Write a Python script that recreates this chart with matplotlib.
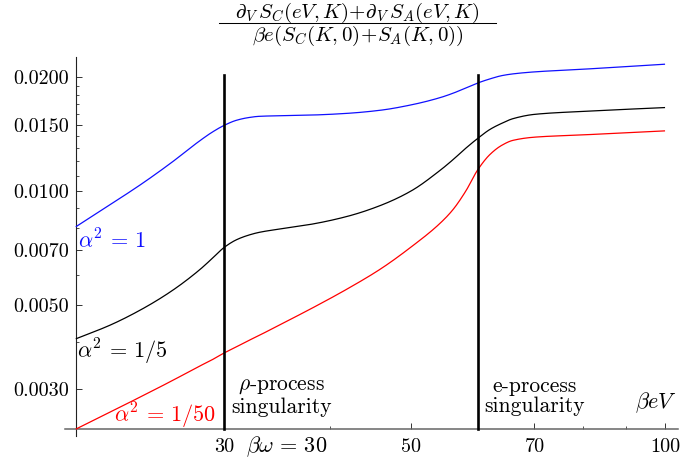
import numpy as np
import matplotlib
matplotlib.use("Agg")
import matplotlib.pyplot as plt
from matplotlib.lines import Line2D
from matplotlib.ticker import FixedLocator, FixedFormatter, NullFormatter

plt.rcParams["font.family"] = ["cmr10", "DejaVu Serif"]
plt.rcParams["mathtext.fontset"] = "cm"
plt.rcParams["axes.unicode_minus"] = False

# bias voltage (beta e V) grid and the normalised conductance for three couplings
beta_eV = [20, 22, 24, 26, 28, 29, 30, 31, 32, 33, 35, 38, 42, 46, 50,
           54, 56, 58, 60, 62, 64, 66, 70, 80, 100]
rate_alpha_1 = [0.00805, 0.00923, 0.01049, 0.01192, 0.01354, 0.01430, 0.01493, 0.01539,
                0.01564, 0.01577, 0.01583, 0.01589, 0.01606, 0.01637, 0.01691,
                0.01765, 0.01814, 0.01873, 0.01933, 0.01981, 0.02020, 0.02042,
                0.02067, 0.02101, 0.02166]
rate_alpha_1_5 = [0.004070, 0.004431, 0.004886, 0.005451, 0.006176, 0.006624, 0.007103,
                  0.007435, 0.007641, 0.007782, 0.007950, 0.008171, 0.008579, 0.009172,
                  0.010018, 0.011315, 0.012097, 0.012976, 0.013807, 0.014567, 0.015109,
                  0.015547, 0.015960, 0.016254, 0.016635]
rate_alpha_1_50 = [0.002349, 0.002610, 0.002877, 0.003152, 0.003441, 0.003580, 0.003736,
                   0.003875, 0.004019, 0.004156, 0.004445, 0.004886, 0.005518, 0.006232,
                   0.007124, 0.008195, 0.008923, 0.009988, 0.011418, 0.012508, 0.013215,
                   0.013624, 0.013892, 0.014088, 0.014435]

series_labels = [r"$\alpha^2\,=\,1$", r"$\alpha^2\,=\,1/5$", r"$\alpha^2\,=\,1/50$"]
series_colors = ["#1010ff", "black", "#ff0000"]

singularity_positions = [30, 60]
singularity_labels = ["$\\rho$-process\nsingularity", "e-process\nsingularity"]

x_major = [30, 50, 70, 100]
x_major_labels = ["30", "50", "70", "100"]
x_minor = [40, 60, 80, 90]
y_major = [0.003, 0.005, 0.007, 0.010, 0.015, 0.020]
y_major_labels = ["0.0030", "0.0050", "0.0070", "0.0100", "0.0150", "0.0200"]
y_minor = [0.004, 0.006, 0.008, 0.009, 0.011, 0.012, 0.013, 0.014,
           0.016, 0.017, 0.018, 0.019]

title_numerator = r"$\partial_V\, S_C(eV,K)\!+\!\partial_V\, S_A(eV,K)$"
title_denominator = r"$\beta e(S_C(K,0)\!+\!S_A(K,0))$"

x_origin = 20
y_origin = 0.00235


def monotone_cubic(x, y, xs):
    """Fritsch-Carlson monotone cubic interpolation."""
    x = np.asarray(x, float)
    y = np.asarray(y, float)
    h = np.diff(x)
    d = np.diff(y) / h
    m = np.zeros_like(y)
    m[0], m[-1] = d[0], d[-1]
    for k in range(1, len(x) - 1):
        if d[k - 1] * d[k] <= 0:
            m[k] = 0.0
        else:
            w1 = 2 * h[k] + h[k - 1]
            w2 = h[k] + 2 * h[k - 1]
            m[k] = (w1 + w2) / (w1 / d[k - 1] + w2 / d[k])
    idx = np.clip(np.searchsorted(x, xs) - 1, 0, len(x) - 2)
    t = (xs - x[idx]) / h[idx]
    h00 = 2 * t**3 - 3 * t**2 + 1
    h10 = t**3 - 2 * t**2 + t
    h01 = -2 * t**3 + 3 * t**2
    h11 = t**3 - t**2
    return h00 * y[idx] + h10 * h[idx] * m[idx] + h01 * y[idx + 1] + h11 * h[idx] * m[idx + 1]


def smooth_loglog(x, y, n=800):
    lx = np.log10(x)
    ly = np.log10(y)
    xs = np.linspace(lx[0], lx[-1], n)
    return 10 ** xs, 10 ** monotone_cubic(lx, ly, xs)


W, H = 681, 461
fig = plt.figure(figsize=(W / 100, H / 100), dpi=100)
ax = fig.add_axes([65 / W, (H - 436) / H, (678 - 65) / W, (436 - 57) / H])

ax.set_xscale("log")
ax.set_yscale("log")
ax.set_xlim(19.42, 103.6)
ax.set_ylim(0.002253, 0.02263)

for vals, color in zip([rate_alpha_1, rate_alpha_1_5, rate_alpha_1_50], series_colors):
    xs, ys = smooth_loglog(beta_eV, vals)
    ax.plot(xs, ys, color=color, lw=0.9, solid_capstyle="butt", zorder=3)

for xv in singularity_positions:
    ax.plot([xv, xv], [y_origin, 0.0203], color="black", lw=1.9, zorder=4)

# axes crossing at the origin of the plotted range
for side in ["top", "right"]:
    ax.spines[side].set_visible(False)
ax.spines["left"].set_position(("data", x_origin))
ax.spines["bottom"].set_position(("data", y_origin))
ax.spines["left"].set_color("#222222")
ax.spines["bottom"].set_color("#666666")
ax.spines["left"].set_linewidth(0.8)
ax.spines["bottom"].set_linewidth(1.1)

ax.xaxis.set_major_locator(FixedLocator(x_major))
ax.xaxis.set_major_formatter(FixedFormatter(x_major_labels))
ax.xaxis.set_minor_locator(FixedLocator(x_minor))
ax.xaxis.set_minor_formatter(NullFormatter())
ax.yaxis.set_major_locator(FixedLocator(y_major))
ax.yaxis.set_major_formatter(FixedFormatter(y_major_labels))
ax.yaxis.set_minor_locator(FixedLocator(y_minor))
ax.yaxis.set_minor_formatter(NullFormatter())

ax.tick_params(axis="both", which="major", direction="in", length=4.5, width=0.7,
               color="#333333", labelsize=14.5)
ax.tick_params(axis="both", which="minor", direction="in", length=2.5, width=0.6,
               color="#333333")
ax.tick_params(axis="x", which="major", pad=6.5)
ax.tick_params(axis="y", which="major", pad=5)

# curve labels
ax.text(20.13, 0.00739, series_labels[0], color=series_colors[0], fontsize=16,
        ha="left", va="center")
ax.text(20.07, 0.00376, series_labels[1], color=series_colors[1], fontsize=16,
        ha="left", va="center")
ax.text(22.23, 0.00255, series_labels[2], color=series_colors[2], fontsize=16,
        ha="left", va="center")

# singularity annotations
ax.text(35.04, 0.00286, singularity_labels[0], fontsize=15.5, ha="center", va="center",
        linespacing=1.05)
ax.text(70.0, 0.00287, singularity_labels[1], fontsize=15.5, ha="center", va="center",
        linespacing=1.05)
ax.text(97.44, 0.002757, r"$\beta eV$", fontsize=16, ha="center", va="center")
ax.text(35.53, 0.002109, r"$\beta\omega\,=\,30$", fontsize=16, ha="center", va="center",
        clip_on=False)

# plot label: a stacked fraction above the axes
fx = 357.5 / W
fig.text(fx, 1 - 17.5 / H, title_numerator, fontsize=15, ha="center", va="baseline")
fig.text(fx, 1 - 41 / H, title_denominator, fontsize=15, ha="center", va="baseline")
fig.add_artist(Line2D([219 / W, 496 / W], [1 - 23.5 / H, 1 - 23.5 / H],
                      transform=fig.transFigure, color="black", lw=0.75))

fig.savefig("out.png", dpi=100)
